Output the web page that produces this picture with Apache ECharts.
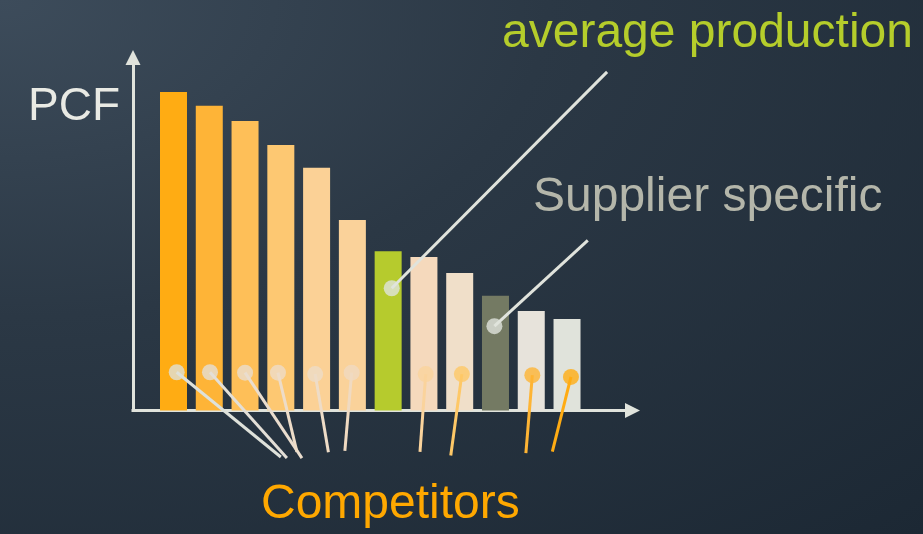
<!DOCTYPE html>
<html>
<head>
<meta charset="utf-8">
<title>PCF</title>
<script src="https://cdn.jsdelivr.net/npm/echarts@6/dist/echarts.min.js"></script>
<style>
  html, body { margin: 0; padding: 0; background: #1c2834; }
  #chart {
    width: 923px;
    height: 534px;
    background: radial-gradient(ellipse farthest-corner at 0% 0%, #3d4c5b 0%, #2b3845 42%, #1c2834 100%);
  }
</style>
</head>
<body>
<div id="chart"></div>
<script>
// PCF per product, ranked from highest to lowest (bar 7 = average production, bar 10 = supplier specific)
const positions = [1, 2, 3, 4, 5, 6, 7, 8, 9, 10, 11, 12];
const pcfValues = [88.3, 84.5, 80.3, 73.6, 67.3, 52.8, 44.2, 42.6, 38.1, 31.8, 27.6, 25.4];
const barColors = ['#ffac13', '#feb437', '#febf58', '#fdc872', '#fbd196', '#fad29a',
                   '#b6cb2d', '#f5d9bc', '#f0dfc9', '#747a63', '#e7e3db', '#e0e3db'];

// Competitor markers: dot on the bar, and where its leader line ends below the axis
const competitorDots = [[1.09, 10.6], [2.02, 10.6], [3.0, 10.5], [3.92, 10.5], [4.96, 10.1],
                        [5.98, 10.5], [8.05, 10.1], [9.06, 10.1], [11.03, 9.8], [12.11, 9.3]];
const competitorEnds = [[4.0, -12.9], [4.17, -13.2], [4.59, -13.2], [4.45, -11.5], [5.33, -11.6],
                        [5.79, -11.2], [7.89, -11.5], [8.75, -12.5], [10.85, -11.8], [11.59, -11.4]];
const competitorColors = ['#dee1da', '#e3dfd7', '#eaddce', '#eddcc8', '#eedcc7',
                          '#f0dac1', '#fad39c', '#fec867', '#feb434', '#ffac13'];

// Callouts for the highlighted bars
const averageDot = [7.1, 33.9];
const averageEnd = [13.12, 93.9];
const supplierDot = [9.97, 23.4];
const supplierEnd = [12.58, 47.2];

const axisColor = '#e0e3dc';
const font = '"Liberation Sans", Arial, sans-serif';

const chart = echarts.init(document.getElementById('chart'), null, { renderer: 'canvas' });

const leaderLines = competitorDots.map((d, i) => ({
  coords: [d, competitorEnds[i]],
  lineStyle: { color: competitorColors[i] }
})).concat([
  { coords: [averageDot, averageEnd], lineStyle: { color: axisColor } },
  { coords: [supplierDot, supplierEnd], lineStyle: { color: axisColor } }
]);

const dots = competitorDots.map((d, i) => ({
  value: d, itemStyle: { color: competitorColors[i] }
})).concat([
  { value: averageDot, itemStyle: { color: axisColor } },
  { value: supplierDot, itemStyle: { color: axisColor } }
]);

chart.setOption({
  backgroundColor: 'transparent',
  animation: false,
  grid: { left: 133, top: 57.5, right: 290.5, bottom: 123.5, containLabel: false },
  xAxis: {
    type: 'value',
    min: -0.132,
    max: 13.83,
    splitLine: { show: false },
    axisTick: { show: false },
    axisLabel: { show: false },
    axisLine: {
      show: true,
      onZero: true,
      symbol: ['none', 'triangle'],
      symbolSize: [15, 15],
      lineStyle: { color: axisColor, width: 3, cap: 'square' }
    }
  },
  yAxis: {
    type: 'value',
    min: 0,
    max: 97.9,
    splitLine: { show: false },
    axisTick: { show: false },
    axisLabel: { show: false },
    axisLine: {
      show: true,
      onZero: false,
      symbol: ['none', 'triangle'],
      symbolSize: [15, 15],
      lineStyle: { color: axisColor, width: 3, cap: 'square' }
    }
  },
  series: [
    {
      type: 'bar',
      barWidth: 27,
      data: positions.map((p, i) => ({ value: [p, pcfValues[i]], itemStyle: { color: barColors[i] } })),
      z: 2
    },
    {
      type: 'lines',
      coordinateSystem: 'cartesian2d',
      clip: false,
      silent: true,
      lineStyle: { width: 3, opacity: 1, curveness: 0 },
      data: leaderLines,
      z: 3
    },
    {
      type: 'scatter',
      symbol: 'circle',
      symbolSize: 16,
      clip: false,
      data: dots,
      z: 4
    }
  ],
  graphic: [
    { type: 'text', x: 28, y: 107,
      style: { text: 'PCF', fill: '#e9eae4', font: '46px ' + font, verticalAlign: 'middle' } },
    { type: 'text', x: 502, y: 34,
      style: { text: 'average production', fill: '#b5cd2b', font: '48px ' + font, verticalAlign: 'middle' } },
    { type: 'text', x: 533, y: 197.5,
      style: { text: 'Supplier specific', fill: '#b4b6aa', font: '48px ' + font, verticalAlign: 'middle' } },
    { type: 'text', x: 261, y: 505,
      style: { text: 'Competitors', fill: '#ffa800', font: '48px ' + font, verticalAlign: 'middle' } }
  ]
});
</script>
</body>
</html>
